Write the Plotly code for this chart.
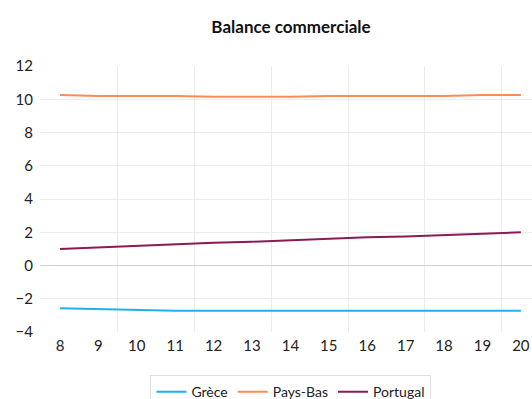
import plotly.graph_objects as go

years = [8, 9, 10, 11, 12, 13, 14, 15, 16, 17, 18, 19, 20]
grece = [-2.57, -2.62, -2.67, -2.72, -2.72, -2.72, -2.72, -2.72, -2.72, -2.72, -2.72, -2.72, -2.72]
pays_bas = [10.26, 10.2, 10.2, 10.2, 10.15, 10.15, 10.15, 10.2, 10.2, 10.2, 10.2, 10.25, 10.25]
portugal = [1.0, 1.1, 1.2, 1.3, 1.37, 1.43, 1.53, 1.62, 1.7, 1.75, 1.83, 1.9, 2.0]
series = [("Grèce", grece, "#1eb0f0"), ("Pays-Bas", pays_bas, "#ff8a55"), ("Portugal", portugal, "#8b1a55")]
y_ticks = [-4, -2, 0, 2, 4, 6, 8, 10, 12]

FONT = "Lato, 'Open Sans', sans-serif"
fig = go.Figure()
for name, vals, color in series:
    fig.add_trace(go.Scatter(x=years, y=vals, name=name, mode="lines",
                             line=dict(color=color, width=2)))
# invisible trace for secondary x axis (vertical gridlines between categories)
fig.add_trace(go.Scatter(x=[years[0]], y=[0], xaxis="x2", mode="markers",
                         marker=dict(opacity=0), showlegend=False, hoverinfo="skip"))

xr = [7.48, 20.29]
fig.update_layout(
    width=532, height=399,
    margin=dict(l=40, r=0, t=66, b=67, autoexpand=False),
    paper_bgcolor="white", plot_bgcolor="white",
    font=dict(family=FONT, size=15, color="#222"),
    title=dict(text="<b>Balance commerciale</b>", x=0.547, xanchor="center",
               y=1 - 27 / 399, yanchor="middle", font=dict(size=17, color="#111")),
    xaxis=dict(range=xr, tickvals=years, ticktext=[str(v) for v in years],
               showgrid=False, zeroline=False, showline=False, ticks="",
               ticklabelstandoff=3, automargin=False),
    xaxis2=dict(range=xr, overlaying="x", tick0=9.5, dtick=2, showgrid=True,
                gridcolor="#ececec", gridwidth=1, showticklabels=False,
                zeroline=False, ticks="", automargin=False),
    yaxis=dict(range=[-4, 12], tickvals=y_ticks, showgrid=True, gridcolor="#ececec",
               gridwidth=1, zeroline=True, zerolinecolor="#cfcfcf", zerolinewidth=1,
               ticks="", ticklabelstandoff=6, automargin=False),
    legend=dict(orientation="h", x=0.51, xanchor="center", y=-0.162, yanchor="top",
                bordercolor="#e0e0e0", borderwidth=1, font=dict(size=14, color="#222"),
                itemwidth=30),
    showlegend=True,
)
fig.write_html("out.html", config={"displayModeBar": False})

# remove the default page margin so the figure sits at the window's top-left corner
with open("out.html", encoding="utf-8") as f:
    html = f.read()
html = html.replace("<body>", '<body style="margin:0;overflow:hidden">', 1)
with open("out.html", "w", encoding="utf-8") as f:
    f.write(html)
